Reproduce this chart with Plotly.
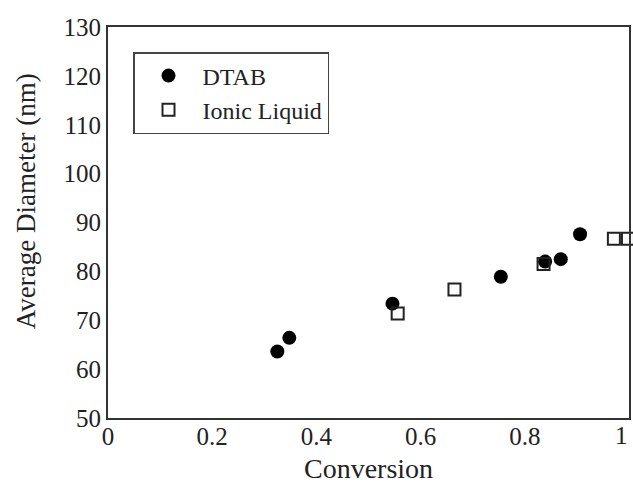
import plotly.graph_objects as go

dtab_x = [0.325, 0.348, 0.546, 0.754, 0.839, 0.869, 0.906]
dtab_y = [63.6, 66.4, 73.4, 78.9, 82.0, 82.5, 87.6]
il_x = [0.556, 0.665, 0.836, 0.971, 0.998]
il_y = [71.4, 76.3, 81.5, 86.7, 86.7]

x_ticks = [0, 0.2, 0.4, 0.6, 0.8, 1]
x_labels = ["0", "0.2", "0.4", "0.6", "0.8", "1"]
y_ticks = [50, 60, 70, 80, 90, 100, 110, 120, 130]

font = "Liberation Serif, Times New Roman, serif"

fig = go.Figure()
fig.add_trace(go.Scatter(x=dtab_x, y=dtab_y, mode="markers", name="DTAB",
                         marker=dict(symbol="circle", size=14, color="black",
                                     line=dict(width=0)), cliponaxis=False))
fig.add_trace(go.Scatter(x=il_x, y=il_y, mode="markers", name="Ionic Liquid",
                         marker=dict(symbol="square-open", size=12, color="#222",
                                     line=dict(width=2)), cliponaxis=False))

annotations = [
    dict(text="Average Diameter (nm)", textangle=-90,
         xref="paper", yref="paper", x=-0.157, y=0.555,
         xanchor="center", yanchor="middle", showarrow=False,
         font=dict(size=27)),
    dict(text="Conversion", xref="paper", yref="paper", x=0.5, y=-0.13,
         xanchor="center", yanchor="middle", showarrow=False,
         font=dict(size=28)),
    # last x tick label sits on the paper edge; plotly would hide it
    dict(text=x_labels[-1], xref="x", yref="paper", x=x_ticks[-1], y=-0.044,
         xanchor="right", yanchor="middle", showarrow=False, xshift=1,
         font=dict(size=25)),
]

fig.update_layout(
    width=633, height=483,
    margin=dict(l=108, r=2, t=27, b=65),
    plot_bgcolor="white", paper_bgcolor="white",
    font=dict(family=font, size=25, color="#222"),
    showlegend=True,
    legend=dict(x=0.048, y=0.936, xanchor="left", yanchor="top",
                bordercolor="#444", borderwidth=1.5, bgcolor="white",
                font=dict(size=24), itemwidth=58, tracegroupgap=0),
    xaxis=dict(range=[0, 1], tickvals=x_ticks[:-1], ticktext=x_labels[:-1],
               showline=True, linecolor="#333", linewidth=2, mirror=True,
               showgrid=False, zeroline=False, ticks="", ticklen=0,
               ticklabelstandoff=-5,
               tickfont=dict(size=25)),
    yaxis=dict(range=[50, 130], tickvals=y_ticks,
               showline=True, linecolor="#333", linewidth=2, mirror=True,
               showgrid=False, zeroline=False, ticks="", ticklen=0,
               tickfont=dict(size=25)),
    annotations=annotations,
)

fig.write_html("out.html")
